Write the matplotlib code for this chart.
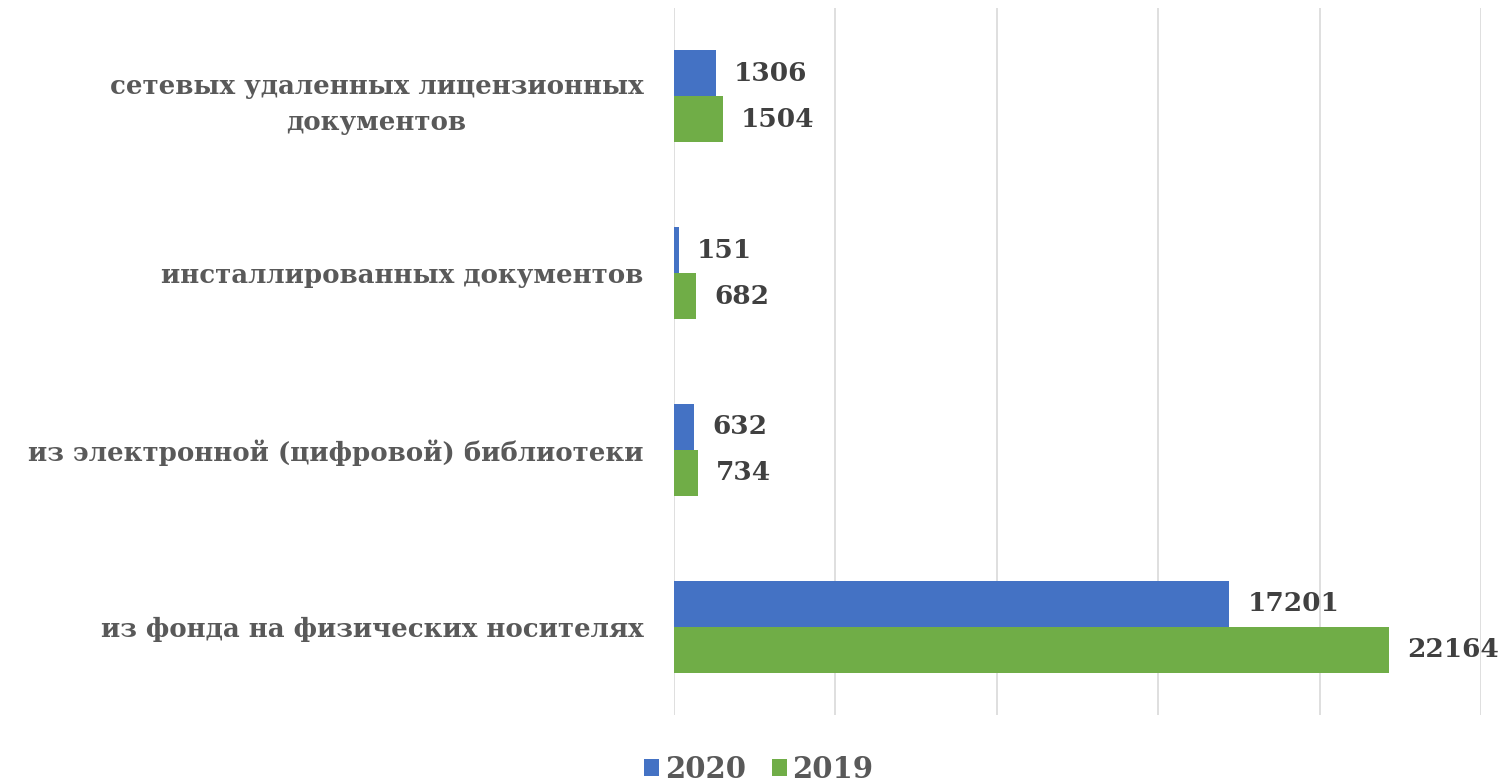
import matplotlib.pyplot as plt
import numpy as np

categories = [
    "сетевых удаленных лицензионных\nдокументов",
    "инсталлированных документов",
    "из электронной (цифровой) библиотеки",
    "из фонда на физических носителях",
]
values_2020 = [1306, 151, 632, 17201]
values_2019 = [1504, 682, 734, 22164]
series_names = ["2020", "2019"]

BLUE = "#4472C4"
GREEN = "#70AD47"
FONT = "DejaVu Serif"

fig = plt.figure(figsize=(15.03, 7.82), dpi=100)
ax = fig.add_axes([0.4484, 0.0857, 0.5370, 0.9041])

y = np.arange(len(categories))[::-1]
h = 0.26
b1 = ax.barh(y + h / 2, values_2020, height=h, color=BLUE, label=series_names[0], zorder=3)
b2 = ax.barh(y - h / 2, values_2019, height=h, color=GREEN, label=series_names[1], zorder=3)

for bars in (b1, b2):
    for rect in bars:
        w = rect.get_width()
        ax.annotate(f"{int(w)}", (w, rect.get_y() + rect.get_height() / 2),
                    xytext=(13, 0), textcoords="offset points", va="center", ha="left",
                    fontsize=19, fontweight="bold", family=FONT, color="#404040")

ax.set_xlim(0, 25000)
ax.set_ylim(-0.5, 3.5)
ax.set_xticks(np.arange(0, 25001, 5000))
ax.xaxis.grid(True, color="#D9D9D9", linewidth=1.2, zorder=0)
ax.tick_params(axis="both", length=0, pad=22)
ax.set_xticklabels([])
ax.set_yticks(y)
ax.set_yticklabels(categories, fontsize=18.7, fontweight="bold", family=FONT,
                   color="#595959", multialignment="center", linespacing=1.55)
for s in ax.spines.values():
    s.set_visible(False)

fig.legend(handles=[b1, b2], loc="center", bbox_to_anchor=(0.505, 0.016), ncol=2, frameon=False,
           prop={"family": FONT, "weight": "bold", "size": 21}, labelcolor="#595959",
           handlelength=0.5, handleheight=0.55, handletextpad=0.2, columnspacing=0.9)

fig.savefig("out.png", dpi=100)
